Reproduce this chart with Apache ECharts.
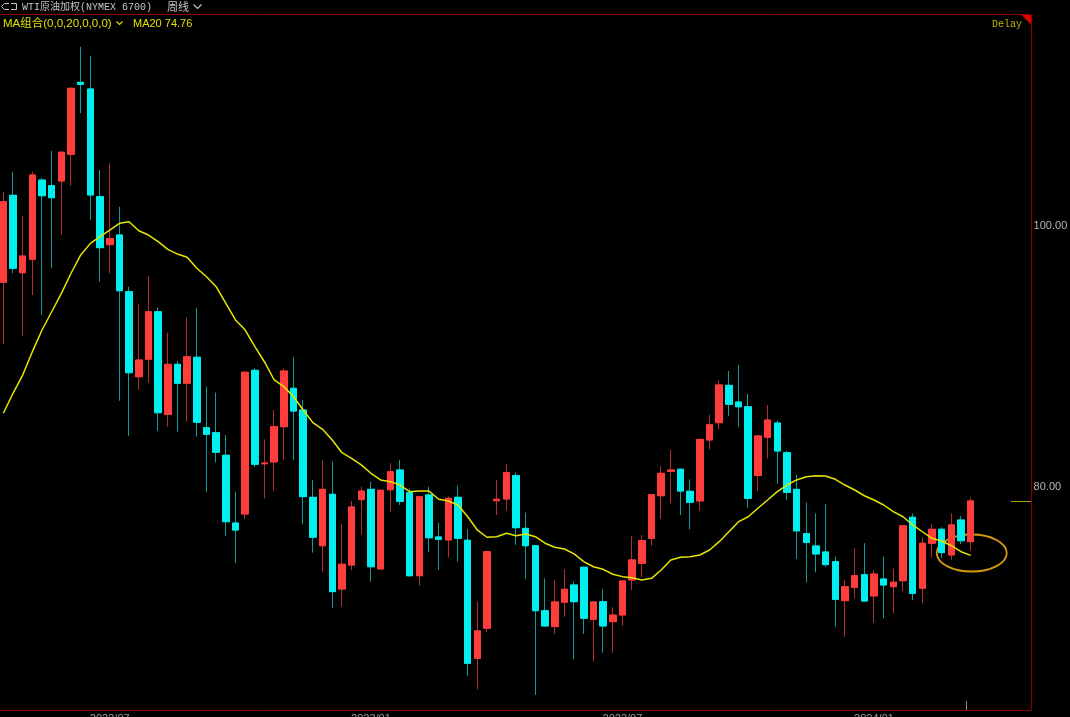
<!DOCTYPE html>
<html><head><meta charset="utf-8">
<script src="https://cdn.jsdelivr.net/npm/echarts@6/dist/echarts.min.js"></script>
<style>html,body{margin:0;padding:0;background:#000;overflow:hidden}#c{width:1070px;height:717px;}</style>
</head><body><div id="c"></div>
<script>
// ---- data (weekly WTI weighted index) ----
const opens=[95.69,102.35,96.42,97.45,103.52,103.09,103.45,105.49,111.01,110.50,
102.25,98.57,99.31,94.97,88.45,89.79,93.43,85.57,89.40,87.95,
89.94,84.54,84.16,82.43,77.24,77.93,88.94,81.78,81.92,84.62,
87.56,85.90,79.21,75.50,79.44,72.18,74.02,79.03,79.82,73.72,
79.79,81.30,79.56,73.20,79.39,76.17,75.94,79.21,75.92,66.87,
69.17,78.95,79.08,80.87,76.83,75.50,70.52,69.30,71.17,72.49,
73.85,69.86,71.21,69.68,70.19,72.87,74.15,76.07,79.33,81.20,
81.36,79.67,78.93,83.60,84.93,87.79,86.51,86.15,80.88,83.81,
84.90,82.63,79.82,76.42,75.48,75.02,74.28,71.29,72.31,73.28,
71.65,72.95,72.36,72.82,77.68,72.24,75.69,76.76,74.79,77.47,
75.81];
const closes=[101.86,96.76,97.70,103.91,102.32,102.17,105.65,110.55,110.86,102.38,
98.34,99.03,95.04,88.76,89.73,93.43,85.69,89.40,87.95,89.98,
84.96,84.04,82.66,77.34,76.70,88.79,81.74,81.84,84.62,88.89,
85.82,79.26,76.15,79.82,71.98,74.08,78.47,79.69,73.89,79.75,
81.17,78.90,73.20,79.26,76.11,75.99,79.13,76.07,66.49,68.97,
75.04,79.06,81.10,76.88,75.50,70.52,69.35,71.19,72.16,71.21,
69.94,71.19,69.35,70.19,72.80,74.41,75.89,79.41,81.05,81.30,
79.69,78.83,83.65,84.77,87.82,86.34,86.15,79.13,83.91,85.13,
82.76,79.58,76.64,75.75,74.87,74.05,71.39,72.36,73.20,71.26,
73.33,72.49,72.70,77.03,71.85,75.69,76.76,74.97,77.09,75.88,
78.93];
const lows=[90.96,96.38,91.59,94.71,93.18,96.76,99.36,103.09,108.64,100.46,
95.73,96.38,86.61,83.91,87.43,87.99,84.31,84.62,84.24,85.00,
83.85,79.64,81.89,76.25,74.18,77.55,81.53,79.13,79.72,82.07,
82.07,77.14,74.97,73.51,70.75,70.83,73.64,76.38,72.74,73.64,
78.11,78.62,73.13,72.44,75.00,73.64,74.61,74.28,65.52,64.50,
68.87,77.85,78.18,75.56,72.97,64.06,69.30,68.74,70.06,66.80,
68.74,66.61,67.30,67.30,69.37,72.11,73.08,75.50,77.55,78.75,
77.85,76.76,78.18,82.89,84.42,85.46,84.62,78.41,79.69,82.20,
80.25,78.98,74.48,72.68,73.46,73.87,69.30,68.53,71.47,71.20,
69.60,69.94,70.32,71.98,71.34,71.09,74.58,74.54,74.41,75.63,
75.12];
const highs=[102.63,104.16,100.77,104.16,103.66,105.75,105.75,110.67,113.74,113.03,
104.29,104.80,101.48,95.35,94.00,96.17,93.74,91.82,89.66,92.97,
93.74,87.69,87.23,83.98,79.64,88.89,89.10,83.65,85.90,89.10,
89.94,86.67,80.54,82.07,81.94,77.16,78.93,80.02,80.41,79.77,
81.82,82.07,79.90,79.31,80.02,77.26,79.26,80.10,76.78,71.21,
75.10,80.54,81.76,81.10,78.03,75.56,73.00,72.87,73.69,72.74,
73.90,71.25,72.16,70.78,72.85,76.25,76.32,79.45,81.61,82.84,
81.40,80.59,83.70,85.52,88.20,88.89,89.35,87.13,84.00,86.28,
85.10,82.76,80.92,78.80,77.98,78.70,74.66,72.87,75.30,75.69,
73.64,74.66,73.74,77.06,77.98,76.15,77.16,76.91,77.98,77.78,
79.18];
const ma20=[85.65,87.18,88.58,90.37,92.03,93.43,94.84,96.38,97.78,98.67,
99.18,99.69,100.21,100.33,99.64,99.31,98.80,98.21,97.85,97.60,
96.76,96.11,95.35,94.08,92.80,92.03,90.75,89.58,88.20,87.69,
86.92,85.90,84.93,84.42,83.60,82.63,82.20,81.69,81.05,80.54,
80.41,80.15,79.64,79.69,79.69,79.06,78.93,78.62,77.72,76.70,
76.15,76.19,76.45,76.27,76.40,76.19,75.69,75.38,75.25,74.87,
74.28,73.89,73.69,73.31,73.13,73.05,72.87,73.00,73.64,74.41,
74.61,74.66,74.79,75.17,75.81,76.57,77.34,77.72,78.37,79.00,
79.64,80.15,80.54,80.79,80.87,80.84,80.59,80.15,79.77,79.33,
79.00,78.62,78.11,77.72,77.09,76.57,76.07,75.86,75.50,75.04,
74.76];
const yTicks=[80,100];
const xTickIdx=[11,38,64,90];
const xTickLabels=['2022/07','2023/01','2023/07','2024/01'];
const emptyWeeks=6;
const circleMark={value:74.94, rx:35, ry:18.5};

// categories: week-ending dates
const categories=[];
const t0=Date.UTC(2022,3,15);
for(let i=0;i<opens.length+emptyWeeks;i++){categories.push(new Date(t0+i*7*864e5).toISOString().slice(0,10));}

const candleData=opens.map((o,i)=>[o,closes[i],lows[i],highs[i]]);
const bodyData=opens.map((o,i)=>[o,closes[i],Math.min(o,closes[i]),Math.max(o,closes[i])]);

const chart=echarts.init(document.getElementById('c'),null,{renderer:'canvas'});
const nCat=categories.length;
const band=9.674;
const option={
  backgroundColor:'#000',
  animation:false,
  grid:{left:-1.5,top:15,width:band*nCat,height:695,containLabel:false,outerBoundsMode:'none'},
  xAxis:{type:'category',data:categories,boundaryGap:true,
    axisLine:{show:false},axisTick:{show:false},splitLine:{show:false},
    axisLabel:{interval:(i)=>xTickIdx.indexOf(i)>=0,
      formatter:(v,i)=>{const k=xTickIdx.indexOf(i);return k>=0?xTickLabels[k]:'';},
      color:'#9a9a9a',fontSize:11,margin:3,fontFamily:'Liberation Sans'}},
  yAxis:{type:'value',position:'right',min:62.91,max:116.17,
    splitLine:{show:false},axisLine:{show:false},axisTick:{show:false},
    axisLabel:{customValues:yTicks,formatter:(v)=>Number(v).toFixed(2),color:'#b4b4b4',fontSize:11,margin:0,fontFamily:'Liberation Sans'}},
  series:[
    {type:'candlestick',data:candleData,barWidth:7,z:2,silent:true,
      itemStyle:{color:'transparent',color0:'transparent',borderColor:'#b03030',borderColor0:'#0e9c9c',borderWidth:1}},
    {type:'candlestick',data:bodyData,barWidth:7,z:3,silent:true,
      itemStyle:{color:'#ff3d3d',color0:'#00f0f0',borderColor:'#ff3d3d',borderColor0:'#00f0f0',borderWidth:1}},
    {type:'line',data:ma20,showSymbol:false,symbol:'none',z:4,silent:true,
      lineStyle:{color:'#e6e600',width:1.5}}
  ]
};
chart.setOption(option);

const last=opens.length-1;
const pLast=chart.convertToPixel({xAxisIndex:0,yAxisIndex:0},[last,closes[last]]);
const pEll=chart.convertToPixel({xAxisIndex:0,yAxisIndex:0},[last,circleMark.value]);
const bw=chart.convertToPixel({xAxisIndex:0},1)-chart.convertToPixel({xAxisIndex:0},0);
const frame='#8c0000';
const gray='#c4c4c4';
const yel='#e0e000';
chart.setOption({graphic:[
  {type:'line',silent:true,shape:{x1:0,y1:14.5,x2:1031,y2:14.5},style:{stroke:frame,lineWidth:1}},
  {type:'line',silent:true,shape:{x1:1031.5,y1:14.5,x2:1031.5,y2:710.5},style:{stroke:frame,lineWidth:1}},
  {type:'line',silent:true,shape:{x1:0,y1:710.5,x2:1031.5,y2:710.5},style:{stroke:frame,lineWidth:1}},
  {type:'polygon',silent:true,shape:{points:[[1021.5,15],[1031,15],[1031,24.5]]},style:{fill:'#e00000'}},
  {type:'polyline',silent:true,shape:{points:[[9,3.5],[4.5,3.5],[1.5,6.5],[4.5,9.5],[9,9.5]]},style:{stroke:gray,lineWidth:1,fill:null}},
  {type:'polyline',silent:true,shape:{points:[[11,3.5],[16.5,3.5],[16.5,9.5],[11,9.5]]},style:{stroke:gray,lineWidth:1,fill:null}},
  {type:'text',silent:true,style:{text:'WTI原油加权(NYMEX 6700)',x:22,y:7,fill:gray,font:'10px "Liberation Mono","Noto Sans CJK SC"',verticalAlign:'middle'}},
  {type:'text',silent:true,style:{text:'周线',x:167,y:7,fill:gray,font:'11px "Noto Sans CJK SC"',verticalAlign:'middle'}},
  {type:'polyline',silent:true,shape:{points:[[193.5,4.5],[197.5,8.5],[201.5,4.5]]},style:{stroke:gray,lineWidth:1.2,fill:null}},
  {type:'text',silent:true,style:{text:'MA组合(0,0,20,0,0,0)',x:3,y:23.5,fill:yel,font:'11.5px "Liberation Sans","Noto Sans CJK SC"',verticalAlign:'middle'}},
  {type:'polyline',silent:true,shape:{points:[[116.5,21.5],[119.5,24.5],[122.5,21.5]]},style:{stroke:yel,lineWidth:1.2,fill:null}},
  {type:'text',silent:true,style:{text:'MA20 74.76',x:133,y:23.5,fill:yel,font:'11px "Liberation Sans"',verticalAlign:'middle'}},
  {type:'text',silent:true,style:{text:'Delay',x:992,y:24.5,fill:'#b8b800',font:'10px "Liberation Mono"',verticalAlign:'middle'}},
  {type:'line',silent:true,shape:{x1:1011,y1:Math.round(pLast[1])+0.5,x2:1031,y2:Math.round(pLast[1])+0.5},style:{stroke:'#a8a800',lineWidth:1}},
  {type:'line',silent:true,shape:{x1:Math.round(pLast[0]-bw/2)+0.5,y1:701,x2:Math.round(pLast[0]-bw/2)+0.5,y2:710},style:{stroke:'#8a8a8a',lineWidth:1}},
  {type:'ellipse',silent:true,shape:{cx:pEll[0]+1,cy:pEll[1],rx:circleMark.rx,ry:circleMark.ry},style:{stroke:'#d99a0b',lineWidth:1.8,fill:null}}
]});
</script>
</body></html>
